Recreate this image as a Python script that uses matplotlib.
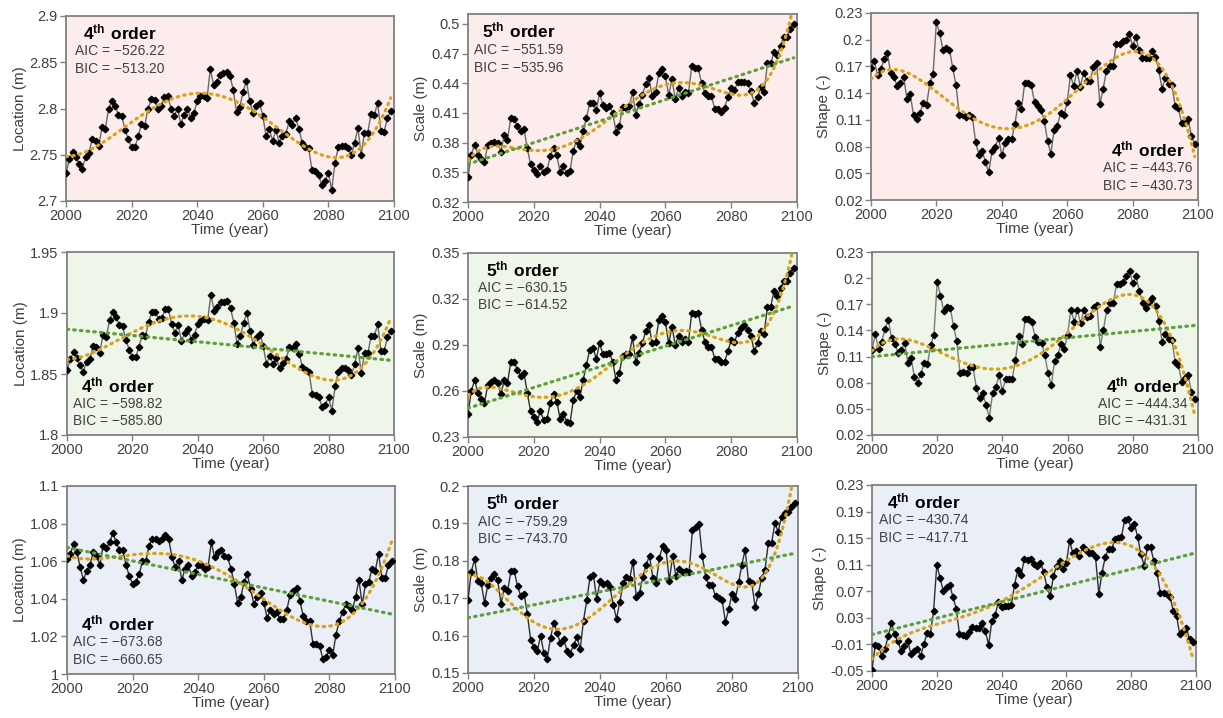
#!/usr/bin/env python3
"""
3x3 grid of yearly GEV parameter series (2000-2099) with polynomial and linear trends.
Saves out.png.
"""
import numpy as np
import matplotlib
matplotlib.use("Agg")
import matplotlib.pyplot as plt
from matplotlib.ticker import FixedLocator, FuncFormatter

plt.rcParams["font.family"] = ["Liberation Sans", "DejaVu Sans"]
plt.rcParams["mathtext.fontset"] = "custom"
plt.rcParams["mathtext.rm"] = "Liberation Sans"
plt.rcParams["mathtext.bf"] = "Liberation Sans:bold"

years = np.arange(2000, 2100)

# ---- row 1 ----
loc_r1 = [
    2.730, 2.745, 2.753, 2.748, 2.740, 2.735, 2.748, 2.752, 2.767, 2.765,
    2.760, 2.780, 2.778, 2.800, 2.808, 2.803, 2.793, 2.792, 2.777, 2.767,
    2.758, 2.758, 2.770, 2.783, 2.781, 2.800, 2.810, 2.809, 2.800, 2.803,
    2.812, 2.814, 2.800, 2.792, 2.800, 2.783, 2.793, 2.800, 2.790, 2.795,
    2.808, 2.814, 2.814, 2.811, 2.843, 2.825, 2.829, 2.836, 2.838, 2.840,
    2.835, 2.820, 2.796, 2.802, 2.818, 2.830, 2.808, 2.795, 2.803, 2.806,
    2.792, 2.770, 2.778, 2.765, 2.777, 2.763, 2.770, 2.772, 2.786, 2.782,
    2.790, 2.778, 2.763, 2.758, 2.757, 2.733, 2.732, 2.728, 2.717, 2.722,
    2.730, 2.712, 2.741, 2.758, 2.760, 2.760, 2.757, 2.750, 2.763, 2.779,
    2.750, 2.774, 2.774, 2.794, 2.793, 2.806, 2.776, 2.775, 2.790, 2.797,
]
scale_r1 = [
    0.345, 0.368, 0.378, 0.368, 0.363, 0.360, 0.378, 0.380, 0.381, 0.380,
    0.371, 0.388, 0.383, 0.405, 0.404, 0.397, 0.392, 0.394, 0.375, 0.358,
    0.352, 0.348, 0.356, 0.350, 0.352, 0.366, 0.375, 0.367, 0.350, 0.356,
    0.349, 0.351, 0.372, 0.382, 0.377, 0.392, 0.405, 0.420, 0.420, 0.413,
    0.430, 0.418, 0.415, 0.417, 0.410, 0.391, 0.397, 0.416, 0.415, 0.417,
    0.431, 0.408, 0.419, 0.428, 0.439, 0.445, 0.427, 0.431, 0.450, 0.454,
    0.447, 0.428, 0.444, 0.424, 0.435, 0.427, 0.431, 0.430, 0.457, 0.455,
    0.455, 0.440, 0.430, 0.427, 0.427, 0.414, 0.414, 0.411, 0.415, 0.426,
    0.435, 0.433, 0.441, 0.441, 0.441, 0.440, 0.432, 0.420, 0.426, 0.436,
    0.431, 0.460, 0.460, 0.472, 0.469, 0.478, 0.487, 0.487, 0.495, 0.500,
]
shape_r1 = [
    0.168, 0.176, 0.160, 0.167, 0.178, 0.185, 0.163, 0.158, 0.148, 0.151,
    0.158, 0.133, 0.139, 0.115, 0.111, 0.118, 0.129, 0.127, 0.151, 0.162,
    0.220, 0.207, 0.189, 0.191, 0.189, 0.168, 0.149, 0.115, 0.115, 0.113,
    0.116, 0.113, 0.085, 0.071, 0.075, 0.063, 0.051, 0.075, 0.080, 0.090,
    0.070, 0.084, 0.088, 0.088, 0.105, 0.129, 0.122, 0.151, 0.151, 0.149,
    0.130, 0.125, 0.121, 0.109, 0.086, 0.072, 0.099, 0.103, 0.118, 0.115,
    0.130, 0.160, 0.148, 0.165, 0.147, 0.163, 0.154, 0.154, 0.169, 0.174,
    0.128, 0.145, 0.165, 0.171, 0.171, 0.195, 0.195, 0.199, 0.200, 0.206,
    0.193, 0.203, 0.188, 0.180, 0.179, 0.180, 0.187, 0.181, 0.166, 0.145,
    0.157, 0.150, 0.149, 0.126, 0.123, 0.106, 0.107, 0.111, 0.092, 0.083,
]

# ---- row 2 ----
loc_r2 = [
    1.853, 1.862, 1.868, 1.863, 1.857, 1.852, 1.860, 1.862, 1.873, 1.872,
    1.867, 1.882, 1.880, 1.894, 1.901, 1.897, 1.890, 1.889, 1.878, 1.870,
    1.864, 1.864, 1.872, 1.882, 1.881, 1.893, 1.901, 1.901, 1.895, 1.896,
    1.903, 1.903, 1.891, 1.884, 1.890, 1.877, 1.884, 1.887, 1.878, 1.882,
    1.891, 1.894, 1.895, 1.894, 1.915, 1.902, 1.905, 1.909, 1.909, 1.910,
    1.904, 1.892, 1.875, 1.881, 1.892, 1.900, 1.885, 1.874, 1.880, 1.883,
    1.873, 1.858, 1.865, 1.858, 1.863, 1.855, 1.859, 1.862, 1.872, 1.871,
    1.875, 1.866, 1.856, 1.853, 1.852, 1.834, 1.833, 1.831, 1.823, 1.825,
    1.831, 1.820, 1.840, 1.852, 1.855, 1.855, 1.853, 1.849, 1.858, 1.871,
    1.851, 1.867, 1.867, 1.881, 1.881, 1.891, 1.869, 1.869, 1.880, 1.885,
]
scale_r2 = [
    0.245, 0.260, 0.267, 0.259, 0.255, 0.252, 0.264, 0.266, 0.267, 0.265,
    0.258, 0.267, 0.265, 0.279, 0.279, 0.274, 0.270, 0.272, 0.259, 0.247,
    0.243, 0.240, 0.247, 0.241, 0.242, 0.252, 0.258, 0.253, 0.242, 0.245,
    0.240, 0.239, 0.254, 0.260, 0.256, 0.267, 0.277, 0.287, 0.288, 0.281,
    0.291, 0.284, 0.284, 0.285, 0.279, 0.267, 0.272, 0.283, 0.284, 0.284,
    0.295, 0.279, 0.285, 0.291, 0.299, 0.303, 0.291, 0.292, 0.306, 0.309,
    0.305, 0.291, 0.302, 0.290, 0.296, 0.292, 0.294, 0.292, 0.311, 0.310,
    0.311, 0.300, 0.292, 0.289, 0.289, 0.281, 0.281, 0.279, 0.279, 0.286,
    0.293, 0.292, 0.298, 0.301, 0.303, 0.300, 0.296, 0.286, 0.291, 0.299,
    0.297, 0.315, 0.315, 0.325, 0.322, 0.327, 0.332, 0.332, 0.337, 0.340,
]
shape_r2 = [
    0.117, 0.136, 0.119, 0.127, 0.142, 0.152, 0.131, 0.125, 0.114, 0.117,
    0.126, 0.103, 0.108, 0.087, 0.080, 0.090, 0.103, 0.101, 0.123, 0.135,
    0.196, 0.180, 0.162, 0.167, 0.166, 0.145, 0.128, 0.091, 0.092, 0.091,
    0.098, 0.098, 0.074, 0.062, 0.068, 0.054, 0.040, 0.068, 0.075, 0.089,
    0.071, 0.084, 0.084, 0.084, 0.106, 0.134, 0.124, 0.153, 0.153, 0.150,
    0.133, 0.127, 0.126, 0.112, 0.091, 0.077, 0.105, 0.112, 0.125, 0.119,
    0.135, 0.164, 0.150, 0.163, 0.148, 0.164, 0.155, 0.157, 0.167, 0.169,
    0.121, 0.141, 0.163, 0.171, 0.171, 0.193, 0.193, 0.196, 0.202, 0.208,
    0.194, 0.202, 0.185, 0.172, 0.166, 0.173, 0.177, 0.168, 0.151, 0.127,
    0.136, 0.130, 0.129, 0.104, 0.100, 0.081, 0.085, 0.089, 0.069, 0.061,
]

# ---- row 3 ----
loc_r3 = [
    1.061, 1.064, 1.069, 1.065, 1.057, 1.050, 1.055, 1.058, 1.065, 1.063,
    1.058, 1.068, 1.067, 1.070, 1.075, 1.070, 1.066, 1.066, 1.058, 1.052,
    1.048, 1.049, 1.053, 1.060, 1.060, 1.068, 1.072, 1.072, 1.071, 1.072,
    1.074, 1.072, 1.062, 1.057, 1.060, 1.050, 1.056, 1.058, 1.052, 1.054,
    1.058, 1.058, 1.056, 1.057, 1.070, 1.062, 1.065, 1.066, 1.063, 1.062,
    1.056, 1.048, 1.038, 1.041, 1.049, 1.053, 1.045, 1.037, 1.041, 1.043,
    1.038, 1.030, 1.034, 1.032, 1.033, 1.029, 1.029, 1.034, 1.042, 1.044,
    1.046, 1.039, 1.031, 1.028, 1.028, 1.016, 1.016, 1.015, 1.008, 1.009,
    1.013, 1.010, 1.021, 1.028, 1.033, 1.037, 1.036, 1.034, 1.041, 1.050,
    1.037, 1.048, 1.049, 1.056, 1.055, 1.064, 1.051, 1.051, 1.058, 1.060,
]
scale_r3 = [
    0.1695, 0.1770, 0.1805, 0.1745, 0.1740, 0.1688, 0.1735, 0.1755, 0.1765, 0.1748,
    0.1685, 0.1727, 0.1720, 0.1772, 0.1773, 0.1732, 0.1706, 0.1712, 0.1657, 0.1588,
    0.1570, 0.1558, 0.1600, 0.1553, 0.1538, 0.1594, 0.1635, 0.1608, 0.1580, 0.1590,
    0.1560, 0.1552, 0.1575, 0.1595, 0.1565, 0.1640, 0.1695, 0.1758, 0.1763, 0.1698,
    0.1745, 0.1738, 0.1740, 0.1730, 0.1683, 0.1645, 0.1690, 0.1740, 0.1757, 0.1752,
    0.1798, 0.1702, 0.1715, 0.1758, 0.1790, 0.1813, 0.1755, 0.1740, 0.1808, 0.1840,
    0.1830, 0.1747, 0.1812, 0.1760, 0.1778, 0.1770, 0.1772, 0.1770, 0.1882, 0.1890,
    0.1898, 0.1812, 0.1758, 0.1735, 0.1735, 0.1705, 0.1700, 0.1695, 0.1637, 0.1670,
    0.1712, 0.1697, 0.1742, 0.1790, 0.1830, 0.1745, 0.1740, 0.1677, 0.1712, 0.1755,
    0.1775, 0.1848, 0.1848, 0.1900, 0.1878, 0.1918, 0.1928, 0.1930, 0.1945, 0.1955,
]
shape_r3 = [
    -0.048, -0.011, -0.012, -0.027, -0.017, 0.003, 0.022, 0.005, -0.005, -0.020,
    -0.012, -0.005, -0.024, -0.020, -0.017, -0.027, -0.010, 0.007, 0.005, 0.040,
    0.110, 0.090, 0.071, 0.076, 0.080, 0.061, 0.044, 0.005, 0.004, 0.003,
    0.008, 0.016, 0.015, 0.014, 0.022, 0.010, -0.011, 0.026, 0.034, 0.054,
    0.046, 0.048, 0.048, 0.050, 0.080, 0.102, 0.094, 0.118, 0.117, 0.119,
    0.111, 0.108, 0.113, 0.099, 0.076, 0.063, 0.093, 0.108, 0.116, 0.104,
    0.113, 0.146, 0.127, 0.131, 0.123, 0.136, 0.132, 0.127, 0.127, 0.121,
    0.066, 0.098, 0.122, 0.133, 0.133, 0.149, 0.150, 0.152, 0.178, 0.179,
    0.165, 0.172, 0.151, 0.126, 0.108, 0.136, 0.136, 0.115, 0.097, 0.067,
    0.067, 0.066, 0.062, 0.040, 0.033, 0.005, 0.010, 0.015, -0.002, -0.007,
]

# y ticks per panel
yt_loc_r1 = [2.7, 2.75, 2.8, 2.85, 2.9]
yt_scale_r1 = [0.32, 0.35, 0.38, 0.41, 0.44, 0.47, 0.5]
yt_shape_r1 = [0.02, 0.05, 0.08, 0.11, 0.14, 0.17, 0.2, 0.23]
yt_loc_r2 = [1.8, 1.85, 1.9, 1.95]
yt_scale_r2 = [0.23, 0.26, 0.29, 0.32, 0.35]
yt_shape_r2 = [0.02, 0.05, 0.08, 0.11, 0.14, 0.17, 0.2, 0.23]
yt_loc_r3 = [1.0, 1.02, 1.04, 1.06, 1.08, 1.1]
yt_scale_r3 = [0.15, 0.16, 0.17, 0.18, 0.19, 0.2]
yt_shape_r3 = [-0.05, -0.01, 0.03, 0.07, 0.11, 0.15, 0.19, 0.23]

orders = [4, 5, 4, 4, 5, 4, 4, 5, 4]
aic = ["\u2212526.22", "\u2212551.59", "\u2212443.76",
       "\u2212598.82", "\u2212630.15", "\u2212444.34",
       "\u2212673.68", "\u2212759.29", "\u2212430.74"]
bic = ["\u2212513.20", "\u2212535.96", "\u2212430.73",
       "\u2212585.80", "\u2212614.52", "\u2212431.31",
       "\u2212660.65", "\u2212743.70", "\u2212417.71"]

W, H = 1223, 718
fig = plt.figure(figsize=(W / 100, H / 100), dpi=100)


def px_rect(l, t, r, b):
    return [l / W, 1 - b / H, (r - l) / W, (b - t) / H]


# (data, ylabel, yticks, ymax, pixel box, linear trend?, bg, line colour, text corner, text x)
panels = [
    (loc_r1, "Location (m)", yt_loc_r1, 2.9, (66, 16, 394, 201), False, "#fcecec", "#6a6a6a", "top", 0.165),
    (scale_r1, "Scale (m)", yt_scale_r1, 0.51, (468, 14, 797, 202), True, "#fcecec", "#6a6a6a", "top", 0.155),
    (shape_r1, "Shape (-)", yt_shape_r1, 0.23, (871, 13, 1198, 200), False, "#fcecec", "#6a6a6a", "bottom", 0.845),
    (loc_r2, "Location (m)", yt_loc_r2, 1.95, (67, 252, 394, 435), True, "#eef5e9", "#6a6a6a", "bottom", 0.155),
    (scale_r2, "Scale (m)", yt_scale_r2, 0.35, (468, 253, 797, 437), True, "#eef5e9", "#303030", "top", 0.165),
    (shape_r2, "Shape (-)", yt_shape_r2, 0.23, (872, 252, 1198, 435), True, "#eef5e9", "#7a7a7a", "bottom", 0.83),
    (loc_r3, "Location (m)", yt_loc_r3, 1.1, (67, 486, 395, 674), True, "#e9eef7", "#303030", "bottom", 0.155),
    (scale_r3, "Scale (m)", yt_scale_r3, 0.2, (468, 486, 798, 673), True, "#e9eef7", "#303030", "top", 0.165),
    (shape_r3, "Shape (-)", yt_shape_r3, 0.23, (872, 485, 1196, 671), True, "#e9eef7", "#303030", "top", 0.16),
]

fmt = FuncFormatter(lambda v, p: f"{v:.2f}".rstrip("0").rstrip("."))
t = (years - 2050) / 50.0

for i, (vals, ylab, yt, ymax, r, lin, bg, lc, where, tx) in enumerate(panels):
    ax = fig.add_axes(px_rect(*r))
    ax.set_facecolor(bg)
    y = np.asarray(vals)

    ax.plot(years, y, color=lc, lw=1.0, marker="D", ms=3.3,
            mfc="black", mec="black", zorder=3)

    # polynomial trend (orange) and linear trend (green)
    c = np.polyfit(t, y, orders[i])
    ax.plot(years, np.polyval(c, t), color="#d9a21b", lw=2.3,
            ls=(0, (0.5, 1.6)), dash_capstyle="round", zorder=4)
    if lin:
        c1 = np.polyfit(t, y, 1)
        ax.plot(years, np.polyval(c1, t), color="#5f9e3c", lw=2.3,
                ls=(0, (0.5, 1.6)), dash_capstyle="round", zorder=4)

    ax.set_xlim(2000, 2100)
    ax.set_ylim(yt[0], ymax)
    ax.xaxis.set_major_locator(FixedLocator(np.arange(2000, 2101, 20)))
    ax.yaxis.set_major_locator(FixedLocator(yt))
    ax.yaxis.set_major_formatter(fmt)
    ax.tick_params(direction="out", length=4, width=1, color="#808080",
                   labelcolor="#404040", labelsize=10.5, pad=2)
    for s in ax.spines.values():
        s.set_color("#808080")
        s.set_linewidth(1.3)
    ax.set_xlabel("Time (year)", fontsize=11, color="#404040", labelpad=0)
    ax.set_ylabel(ylab, fontsize=11, color="#404040", labelpad=2)

    order_txt = r"$\mathbf{%d^{th}\ order}$" % orders[i]
    y0 = 0.91 if where == "top" else 0.27
    ax.text(tx, y0, order_txt, transform=ax.transAxes, ha="center", va="center",
            fontsize=12.5, color="black")
    ax.text(tx, y0 - 0.1, f"AIC = {aic[i]}", transform=ax.transAxes,
            ha="center", va="center", fontsize=10, color="#404040")
    ax.text(tx, y0 - 0.195, f"BIC = {bic[i]}", transform=ax.transAxes,
            ha="center", va="center", fontsize=10, color="#404040")

fig.savefig("out.png", dpi=100)
